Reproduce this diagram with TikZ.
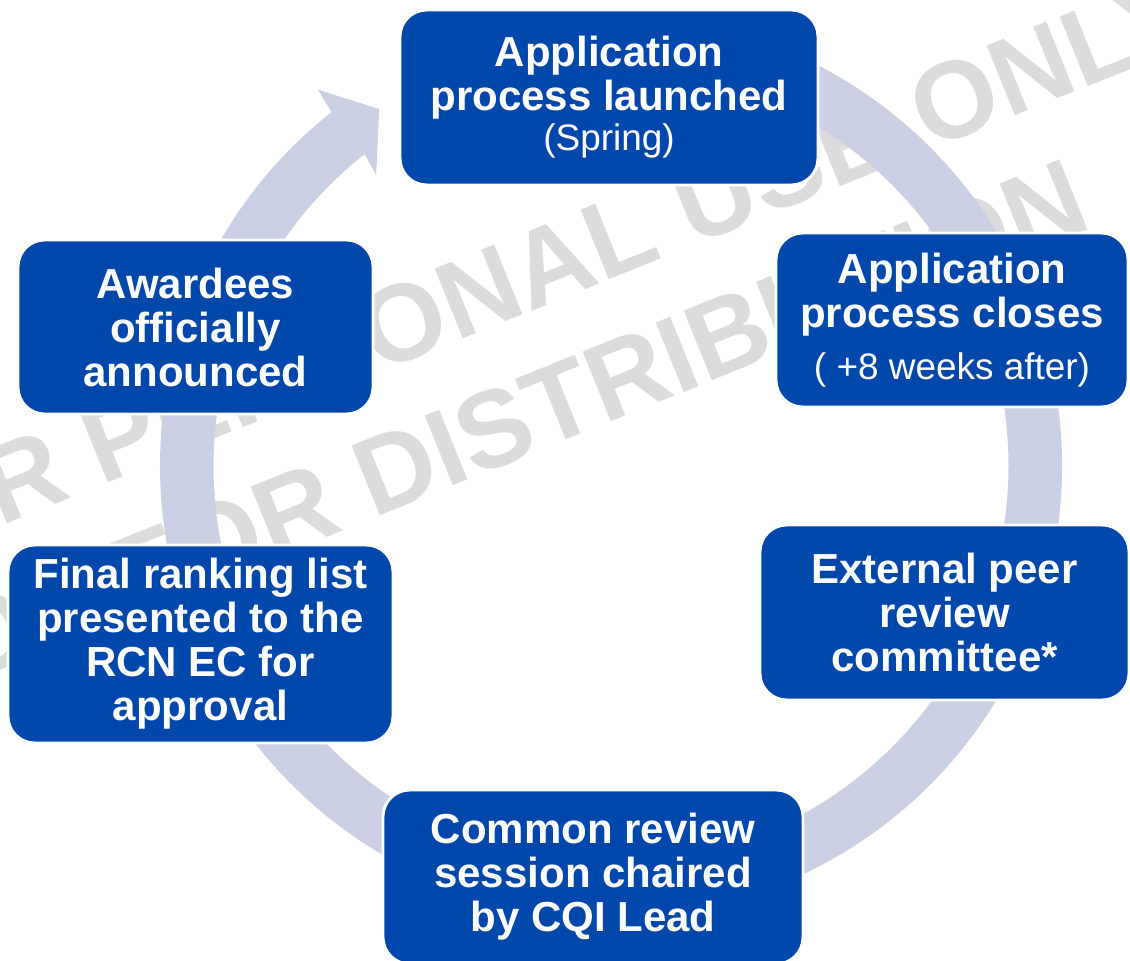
\documentclass[tikz,border=0pt]{standalone}
\usepackage{fontspec}
\setmainfont{Liberation Sans}
\definecolor{boxblue}{RGB}{0,71,171}
\definecolor{ringc}{RGB}{203,208,228}
\definecolor{wmgray}{RGB}{220,220,220}
\begin{document}
\begin{tikzpicture}[x=0.75pt,y=0.75pt,
  stepbox/.style={fill=boxblue, draw=white, line width=2.2pt, rounded corners=20pt,
    text=white, align=center, inner sep=0pt,
    font=\fontsize{31.5}{33}\selectfont\bfseries},
  wmark/.style={text=wmgray, rotate=22, anchor=base west, inner sep=0pt,
    font=\fontsize{82}{82}\selectfont\bfseries}]
\newcommand{\subtxt}{\fontsize{27.7}{30}\selectfont\mdseries}
\useasboundingbox (0,0) rectangle (1130,960);
\fill[white] (0,0) rectangle (1130,960);
% watermark
\node[wmark] (wm1) at (-141,377) {FOR PERSONAL USE ONLY};
\node[wmark] (wm2) at (-111,246) {NOT FOR DISTRIBUTION};
% ring arrow
\begin{scope}[shift={(611,494)}]
\fill[ringc] (100:451) arc[start angle=100,end angle=-231.7,radius=451]
  -- (127.9:477) -- (123:425.5) -- (128.9:374) -- (-231.7:397.5)
  arc[start angle=-231.7,end angle=100,radius=397.5] -- cycle;
\end{scope}
% boxes
\node[stepbox, minimum width=313.5pt, minimum height=131.25pt] (b1) at (609,862.5)
  {Application\\process launched\\[-3pt]{\subtxt (Spring)}};
\node[stepbox, minimum width=264pt, minimum height=130.5pt] (b2) at (952,640)
  {Application\\process closes\\[6.5pt]{\subtxt ( +8 weeks after)}};
\node[stepbox, minimum width=276.75pt, minimum height=131.25pt] (b3) at (944.5,347.5)
  {External peer\\review\\committee*};
\node[stepbox, minimum width=315pt, minimum height=130.5pt] (b4) at (593,83)
  {Common review\\session chaired\\by CQI Lead};
\node[stepbox, minimum width=288.75pt, minimum height=148.5pt] (b5) at (200.5,316)
  {Final ranking list\\presented to the\\RCN EC for\\approval};
\node[stepbox, minimum width=266.25pt, minimum height=130.5pt] (b6) at (195.5,633)
  {Awardees\\officially\\announced};
\end{tikzpicture}
\end{document}
